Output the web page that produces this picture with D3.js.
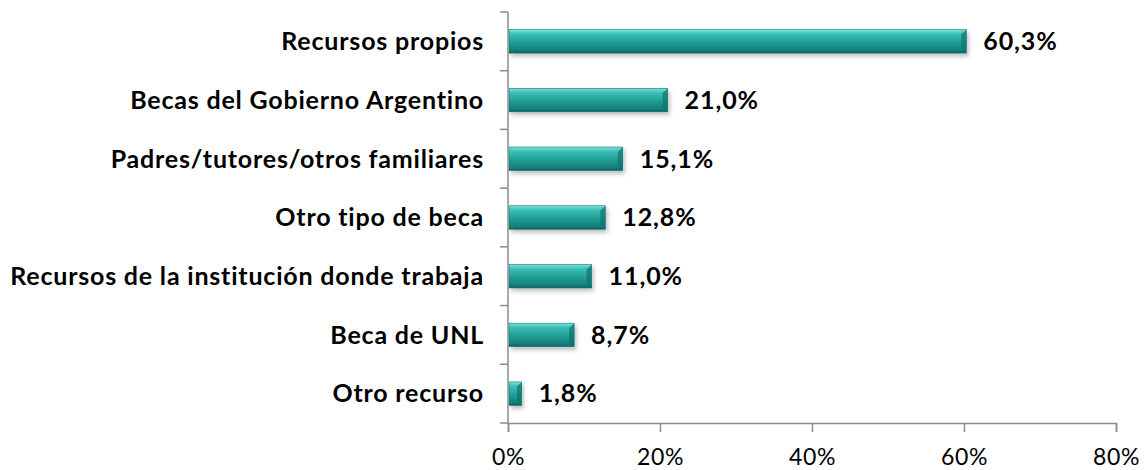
<!doctype html>
<html>
<head>
<meta charset="utf-8">
<script src="https://d3js.org/d3.v7.min.js"></script>
<style>
  body { margin: 0; background: #fff; }
  svg { font-family: Lato, "Open Sans", sans-serif; }
</style>
</head>
<body>
<svg id="chart" width="1146" height="470"></svg>
<script>
// data
var categories = ["Recursos propios", "Becas del Gobierno Argentino", "Padres/tutores/otros familiares",
  "Otro tipo de beca", "Recursos de la institución donde trabaja", "Beca de UNL", "Otro recurso"];
var values = [60.3, 21.0, 15.1, 12.8, 11.0, 8.7, 1.8];
var xTicks = [0, 20, 40, 60, 80];

var svg = d3.select("#chart");
var x0 = 508, x1 = 1116, yTop = 12, yBot = 423;

var xScale = d3.scaleLinear().domain([0, 80]).range([x0, x1]);
var yScale = d3.scaleBand().domain(categories).range([yTop, yBot]).paddingInner(0.6).paddingOuter(0.3);

// gradient for the bevelled bars
var defs = svg.append("defs");
var grad = defs.append("linearGradient").attr("id", "barGrad")
  .attr("x1", 0).attr("y1", 0).attr("x2", 0).attr("y2", 1);
grad.append("stop").attr("offset", "0%").attr("stop-color", "#7fe3dc");
grad.append("stop").attr("offset", "18%").attr("stop-color", "#3dbfb7");
grad.append("stop").attr("offset", "55%").attr("stop-color", "#1e9d96");
grad.append("stop").attr("offset", "85%").attr("stop-color", "#16827d");
grad.append("stop").attr("offset", "100%").attr("stop-color", "#0e615d");

var shadow = defs.append("filter").attr("id", "shadow").attr("x", "-10%").attr("y", "-30%")
  .attr("width", "130%").attr("height", "190%");
shadow.append("feDropShadow").attr("dx", 2).attr("dy", 3).attr("stdDeviation", 2)
  .attr("flood-color", "#000").attr("flood-opacity", 0.25);

// bars
var bars = svg.selectAll("g.bar")
  .data(categories)
  .enter()
  .append("g")
  .attr("class", "bar");

bars.append("rect")
  .attr("x", x0 + 1)
  .attr("y", d => yScale(d))
  .attr("width", (d, i) => xScale(values[i]) - x0 - 1)
  .attr("height", yScale.bandwidth())
  .attr("fill", "url(#barGrad)")
  .attr("stroke", "#137873")
  .attr("stroke-width", 0.6)
  .attr("filter", "url(#shadow)");

// bevel at the right end of each bar
bars.append("path")
  .attr("d", function(d, i) {
    var xe = xScale(values[i]), y = yScale(d), h = yScale.bandwidth();
    var b = Math.min(5, (xe - x0) / 3);
    return "M" + xe + "," + y + "L" + (xe - b) + "," + (y + b) + "L" + (xe - b) + "," + (y + h - b) +
      "L" + xe + "," + (y + h) + "Z";
  })
  .attr("fill", "#11706b")
  .attr("opacity", 0.7);

// value labels
bars.append("text")
  .attr("x", (d, i) => xScale(values[i]) + 17)
  .attr("y", d => yScale(d) + yScale.bandwidth() / 2)
  .attr("dy", "0.35em")
  .attr("font-size", 25)
  .attr("font-weight", "bold")
  .attr("letter-spacing", 0.9)
  .attr("fill", "#000")
  .text((d, i) => values[i].toFixed(1).replace(".", ",") + "%");

// category labels
svg.selectAll("text.cat")
  .data(categories)
  .enter()
  .append("text")
  .attr("class", "cat")
  .attr("x", 484)
  .attr("y", d => yScale(d) + yScale.bandwidth() / 2)
  .attr("dy", "0.35em")
  .attr("text-anchor", "end")
  .attr("font-size", 25)
  .attr("font-weight", "bold")
  .attr("letter-spacing", 0.8)
  .attr("fill", "#000")
  .text(d => d);

// axes
var axisColor = "#8c8c8c";
var yLine = svg.append("g");
yLine.append("line").attr("x1", x0).attr("x2", x0).attr("y1", yTop).attr("y2", yBot)
  .attr("stroke", axisColor).attr("stroke-width", 1.5);
var bandStep = (yBot - yTop) / categories.length;
yLine.selectAll("line.tick")
  .data(d3.range(categories.length + 1))
  .enter()
  .append("line")
  .attr("class", "tick")
  .attr("x1", x0 - 8).attr("x2", x0)
  .attr("y1", i => yTop + i * bandStep).attr("y2", i => yTop + i * bandStep)
  .attr("stroke", axisColor).attr("stroke-width", 1.5);

var xAxis = d3.axisBottom(xScale)
  .tickValues(xTicks)
  .tickSize(9)
  .tickPadding(17)
  .tickFormat(d => d + "%");
var xg = svg.append("g").attr("transform", "translate(0," + yBot + ")").call(xAxis);
xg.select(".domain").attr("stroke", axisColor).attr("stroke-width", 1.5);
xg.selectAll(".tick line").attr("stroke", axisColor).attr("stroke-width", 1.5);
xg.selectAll(".tick text").attr("font-size", 23).attr("letter-spacing", 0.6)
  .attr("fill", "#000").attr("font-family", "Lato, sans-serif");
</script>
</body>
</html>
